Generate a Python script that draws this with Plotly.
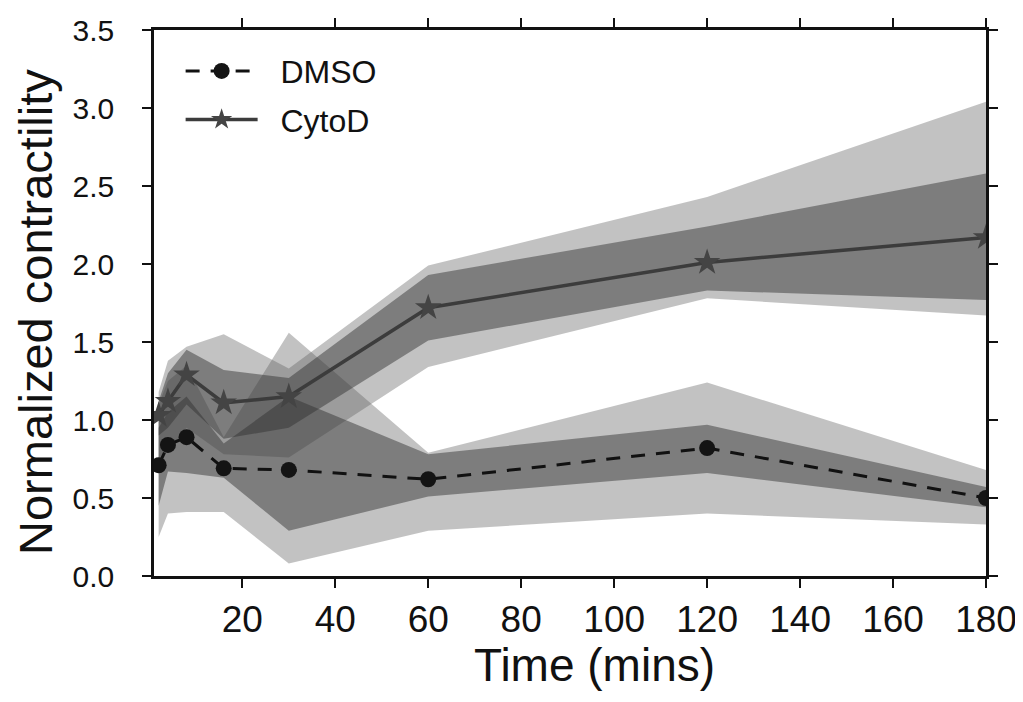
import plotly.graph_objects as go

# ---- data ----
time_min = [2, 4, 8, 16, 30, 60, 120, 180]

dmso_mean = [0.71, 0.84, 0.89, 0.69, 0.68, 0.62, 0.82, 0.50]
dmso_inner_hi = [0.95, 1.05, 1.15, 0.85, 1.15, 0.78, 0.97, 0.57]
dmso_inner_lo = [0.45, 0.67, 0.66, 0.63, 0.29, 0.51, 0.66, 0.44]
dmso_outer_hi = [1.10, 1.25, 1.35, 0.89, 1.56, 0.79, 1.24, 0.68]
dmso_outer_lo = [0.25, 0.40, 0.41, 0.41, 0.08, 0.29, 0.40, 0.33]

cytod_mean = [1.03, 1.12, 1.29, 1.11, 1.15, 1.72, 2.01, 2.17]
cytod_inner_hi = [1.12, 1.30, 1.45, 1.32, 1.27, 1.93, 2.24, 2.58]
cytod_inner_lo = [0.90, 0.95, 1.10, 0.88, 0.95, 1.51, 1.83, 1.77]
cytod_outer_hi = [1.18, 1.38, 1.47, 1.55, 1.33, 1.99, 2.43, 3.04]
cytod_outer_lo = [0.75, 0.80, 0.95, 0.78, 0.76, 1.34, 1.78, 1.67]

series_names = ["DMSO", "CytoD"]
x_ticks = [20, 40, 60, 80, 100, 120, 140, 160, 180]
y_ticks = [0.0, 0.5, 1.0, 1.5, 2.0, 2.5, 3.0, 3.5]
x_title = "Time (mins)"
y_title = "Normalized contractility"

OUTER_FILL = "rgba(95,95,95,0.38)"
INNER_FILL = "rgba(50,50,50,0.48)"

fig = go.Figure()


def band(hi, lo, color):
    fig.add_trace(go.Scatter(
        x=time_min + time_min[::-1],
        y=hi + lo[::-1],
        fill="toself", fillcolor=color,
        line=dict(width=0), mode="lines",
        hoverinfo="skip", showlegend=False,
    ))


band(dmso_outer_hi, dmso_outer_lo, OUTER_FILL)
band(cytod_outer_hi, cytod_outer_lo, OUTER_FILL)
band(dmso_inner_hi, dmso_inner_lo, INNER_FILL)
band(cytod_inner_hi, cytod_inner_lo, INNER_FILL)

fig.add_trace(go.Scatter(
    x=time_min, y=dmso_mean, name="\u00a0\u00a0" + series_names[0],
    legendgroup="a",
    mode="lines+markers",
    line=dict(color="#111111", width=3, dash="14px,11px"),
    marker=dict(symbol="circle", size=16, color="#141414"),
))
fig.add_trace(go.Scatter(
    x=time_min, y=cytod_mean, name="\u00a0\u00a0" + series_names[1],
    legendgroup="b",
    mode="lines+markers",
    line=dict(color="#3c3c3c", width=3.5),
    marker=dict(symbol="star", size=20, color="#444444"),
))

FONT = "Liberation Sans, Arial, sans-serif"

# page body adds an 8px offset; the figure is sized so the plot lands where the reference has it
W, H = 1015, 694
L, R, T, B = 146, 37, 22, 126
plot_w = W - L - R
plot_h = H - T - B

fig.update_layout(
    width=W, height=H,
    margin=dict(l=L, r=R, t=T, b=B, autoexpand=False),
    paper_bgcolor="white", plot_bgcolor="white",
    font=dict(family=FONT, color="#111111"),
    showlegend=True,
    legend=dict(
        x=0.032, y=0.975, xanchor="left", yanchor="top",
        font=dict(size=32, family=FONT, color="#111111"),
        bgcolor="rgba(0,0,0,0)", itemwidth=72, tracegroupgap=4,
    ),
    annotations=[
        dict(text=x_title, xref="paper", yref="paper",
             x=0.5 + (593 - (153 + plot_w / 2)) / plot_w,
             y=-89 / plot_h, xanchor="center", yanchor="middle",
             showarrow=False, font=dict(size=46, family=FONT, color="#111111")),
        dict(text=y_title, xref="paper", yref="paper",
             x=-(153 - 35) / plot_w, y=0.5 - 9 / plot_h,
             xanchor="center", yanchor="middle", textangle=-90,
             showarrow=False, font=dict(size=47, family=FONT, color="#111111")),
    ],
)

fig.update_xaxes(
    range=[1, 180], tickvals=x_ticks, ticktext=[str(v) for v in x_ticks],
    showgrid=False, zeroline=False, automargin=False,
    showline=True, linecolor="#111111", linewidth=2.5, mirror="allticks",
    ticks="outside", ticklen=9, tickwidth=2, tickcolor="#111111",
    tickfont=dict(size=37, family=FONT),
    ticklabelstandoff=0,
)
fig.update_yaxes(
    range=[0, 3.5], tickvals=y_ticks, ticktext=[f"{v:.1f}" for v in y_ticks],
    showgrid=False, zeroline=False, automargin=False,
    showline=True, linecolor="#111111", linewidth=2.5, mirror="allticks",
    ticks="outside", ticklen=9, tickwidth=2, tickcolor="#111111",
    tickfont=dict(size=30, family=FONT),
    ticklabelstandoff=22,
)

fig.write_html("out.html")
